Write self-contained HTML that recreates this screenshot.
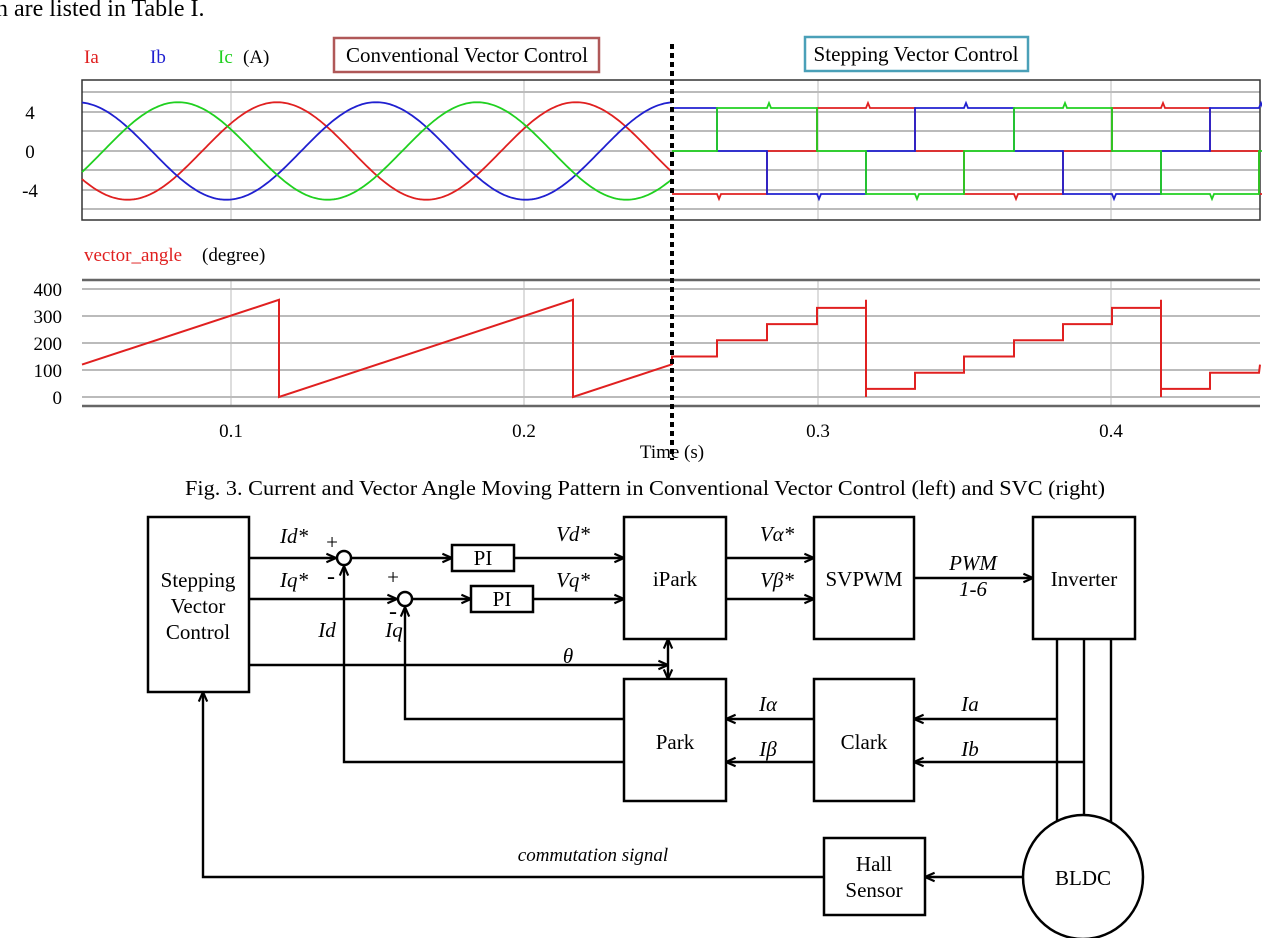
<!DOCTYPE html>
<html><head><meta charset="utf-8"><style>
html,body{margin:0;padding:0;background:#fff;}
svg{display:block;font-family:"Liberation Serif",serif;}
</style></head><body>
<svg id="s" width="1262" height="938" viewBox="0 0 1262 938" xmlns="http://www.w3.org/2000/svg">
<defs>
<marker id="a" viewBox="0 0 10 10" refX="9" refY="5" markerWidth="12" markerHeight="12" orient="auto-start-reverse" markerUnits="userSpaceOnUse"><path d="M1,1.5 L9,5 L1,8.5" fill="none" stroke="#000" stroke-width="1.8"/></marker>
</defs>
<text x="-4" y="16" font-size="24">n are listed in Table I.</text>
<!-- top legend -->
<text x="84" y="63" font-size="19" fill="#e02020">Ia</text>
<text x="150" y="63" font-size="19" fill="#2020d0">Ib</text>
<text x="218" y="63" font-size="19" fill="#20d020">Ic</text>
<text x="243" y="63" font-size="19">(A)</text>
<rect x="334" y="38" width="265" height="34" fill="none" stroke="#b05858" stroke-width="2.5"/>
<text x="467" y="62" font-size="21" text-anchor="middle" textLength="242" lengthAdjust="spacingAndGlyphs">Conventional Vector Control</text>
<rect x="805" y="37" width="223" height="34" fill="none" stroke="#4aa0b8" stroke-width="2.5"/>
<text x="916" y="61" font-size="21" text-anchor="middle" textLength="205" lengthAdjust="spacingAndGlyphs">Stepping Vector Control</text>
<!-- top plot -->
<g stroke="#bbb" stroke-width="2">
<line x1="82" y1="92" x2="1260" y2="92"/><line x1="82" y1="112" x2="1260" y2="112"/><line x1="82" y1="131" x2="1260" y2="131"/><line x1="82" y1="151" x2="1260" y2="151"/><line x1="82" y1="170" x2="1260" y2="170"/><line x1="82" y1="190" x2="1260" y2="190"/><line x1="82" y1="209" x2="1260" y2="209"/>
</g>
<g stroke="#bbb" stroke-width="1"><line x1="231" y1="80" x2="231" y2="220"/><line x1="524" y1="80" x2="524" y2="220"/><line x1="818" y1="80" x2="818" y2="220"/><line x1="1111" y1="80" x2="1111" y2="220"/></g>
<rect x="82" y="80" width="1178" height="140" fill="none" stroke="#333" stroke-width="1.5"/>
<text x="30" y="119" font-size="19" text-anchor="middle">4</text>
<text x="30" y="158" font-size="19" text-anchor="middle">0</text>
<text x="30" y="197" font-size="19" text-anchor="middle">-4</text>
<g id="top" fill="none" stroke-width="1.8"></g>
<!-- bottom -->
<text x="84" y="261" font-size="19" fill="#e02020">vector_angle</text>
<text x="202" y="261" font-size="19">(degree)</text>
<g stroke="#bbb" stroke-width="2"><line x1="82" y1="289" x2="1260" y2="289"/><line x1="82" y1="316" x2="1260" y2="316"/><line x1="82" y1="343" x2="1260" y2="343"/><line x1="82" y1="370" x2="1260" y2="370"/><line x1="82" y1="397" x2="1260" y2="397"/></g>
<g stroke="#bbb" stroke-width="1"><line x1="231" y1="280" x2="231" y2="406"/><line x1="524" y1="280" x2="524" y2="406"/><line x1="818" y1="280" x2="818" y2="406"/><line x1="1111" y1="280" x2="1111" y2="406"/></g>
<line x1="82" y1="280" x2="1260" y2="280" stroke="#666" stroke-width="2.5"/>
<line x1="82" y1="406" x2="1260" y2="406" stroke="#666" stroke-width="2.5"/>
<g font-size="19" text-anchor="end"><text x="62" y="296">400</text><text x="62" y="323">300</text><text x="62" y="350">200</text><text x="62" y="377">100</text><text x="62" y="404">0</text></g>
<path id="ang" fill="none" stroke="#e02020" stroke-width="2"/>
<g font-size="19" text-anchor="middle"><text x="231" y="437">0.1</text><text x="524" y="437">0.2</text><text x="818" y="437">0.3</text><text x="1111" y="437">0.4</text><text x="672" y="458">Time (s)</text></g>
<line x1="672" y1="44" x2="672" y2="460" stroke="#000" stroke-width="4" stroke-dasharray="5,4"/>
<text x="645" y="495" font-size="21" text-anchor="middle" textLength="920" lengthAdjust="spacingAndGlyphs">Fig. 3. Current and Vector Angle Moving Pattern in Conventional Vector Control (left) and SVC (right)</text>
<!-- block diagram -->
<g fill="none" stroke="#000" stroke-width="2.5">
<rect x="148" y="517" width="101" height="175"/>
<rect x="624" y="517" width="102" height="122"/>
<rect x="814" y="517" width="100" height="122"/>
<rect x="1033" y="517" width="102" height="122"/>
<rect x="624" y="679" width="102" height="122"/>
<rect x="814" y="679" width="100" height="122"/>
<rect x="824" y="838" width="101" height="77"/>
<rect x="452" y="545" width="62" height="26"/>
<rect x="471" y="586" width="62" height="26"/>
<circle cx="344" cy="558" r="7"/>
<circle cx="405" cy="599" r="7"/>
<ellipse cx="1083" cy="877" rx="60" ry="62"/>
</g>
<g fill="none" stroke="#000" stroke-width="2.4" marker-end="url(#a)">
<line x1="249" y1="558" x2="336" y2="558"/>
<line x1="351" y1="558" x2="452" y2="558"/>
<line x1="514" y1="558" x2="624" y2="558"/>
<line x1="249" y1="599" x2="397" y2="599"/>
<line x1="412" y1="599" x2="471" y2="599"/>
<line x1="533" y1="599" x2="624" y2="599"/>
<line x1="249" y1="665" x2="668" y2="665"/>
<polyline points="624,719 405,719 405,607"/>
<polyline points="624,762 344,762 344,566"/>
<line x1="814" y1="719" x2="726" y2="719"/>
<line x1="814" y1="762" x2="726" y2="762"/>
<line x1="1057" y1="719" x2="914" y2="719"/>
<line x1="1084" y1="762" x2="914" y2="762"/>
<line x1="726" y1="558" x2="814" y2="558"/>
<line x1="726" y1="599" x2="814" y2="599"/>
<line x1="914" y1="578" x2="1033" y2="578"/>
<line x1="1023" y1="877" x2="925" y2="877"/>
<polyline points="824,877 203,877 203,692"/>
<line x1="668" y1="652" x2="668" y2="639" />
<line x1="668" y1="652" x2="668" y2="679"/>
</g>
<g stroke="#000" stroke-width="2.4"><line x1="1057" y1="639" x2="1057" y2="822"/><line x1="1084" y1="639" x2="1084" y2="815"/><line x1="1111" y1="639" x2="1111" y2="822"/></g>
<g font-size="21" text-anchor="middle">
<text x="198" y="587">Stepping</text><text x="198" y="613">Vector</text><text x="198" y="639">Control</text>
<text x="675" y="586">iPark</text><text x="864" y="586">SVPWM</text><text x="1084" y="586">Inverter</text>
<text x="675" y="749">Park</text><text x="864" y="749">Clark</text>
<text x="874" y="871">Hall</text><text x="874" y="897">Sensor</text>
<text x="1083" y="885">BLDC</text>
<text x="483" y="565">PI</text><text x="502" y="606">PI</text>
<text x="332" y="549" font-size="21">+</text><text x="331" y="584" font-size="24">-</text>
<text x="393" y="584" font-size="21">+</text><text x="393" y="619" font-size="24">-</text>
</g>
<g font-size="21" font-style="italic" text-anchor="middle">
<text x="294" y="543">Id*</text><text x="294" y="587">Iq*</text>
<text x="327" y="637">Id</text><text x="394" y="637">Iq</text>
<text x="573" y="541">Vd*</text><text x="573" y="587">Vq*</text>
<text x="568" y="663">θ</text>
<text x="777" y="541">Vα*</text><text x="777" y="587">Vβ*</text>
<text x="973" y="570">PWM</text><text x="973" y="596">1-6</text>
<text x="768" y="711">Iα</text><text x="768" y="756">Iβ</text>
<text x="970" y="711">Ia</text><text x="970" y="756">Ib</text>
<text x="593" y="861" font-size="19">commutation signal</text>
</g>
</svg>
<script>
(function(){
var NS="http://www.w3.org/2000/svg",g=document.getElementById("top");
function add(d,c){var p=document.createElementNS(NS,"path");p.setAttribute("d",d);p.setAttribute("stroke",c);g.appendChild(p);}
var P=299,A=48.75,y0=151;
[[277,"#e02020"],[376,"#2020d0"],[178,"#20d020"]].forEach(function(o){
 var d="";for(var x=82;x<=672;x+=2){var y=y0-A*Math.cos(2*Math.PI*(x-o[0])/P);d+=(x==82?"M":"L")+x+","+y.toFixed(1);}add(d,o[1]);});
var T=[672,717,767,817,866,915,964,1014,1063,1112,1161,1210,1259,1262];
var H=108,Z=151,L=194;
var S=[[L,H,Z],[L,Z,H],[Z,L,H],[H,L,Z],[H,Z,L],[Z,H,L]];
var cols=["#e02020","#2020d0","#20d020"];
for(var k=0;k<3;k++){var d="";
 for(var i=0;i<T.length-1;i++){var lv=S[i%6][k];
  d+=(i==0?"M":"L")+T[i]+","+lv+" ";
  if(i>0){var prev=S[(i-1)%6][k];if(prev==lv){var sp=lv==H?-5:(lv==L?5:0);d+="L"+(T[i]+2)+","+(lv+sp)+" L"+(T[i]+4)+","+lv+" ";}}
  d+="L"+T[i+1]+","+lv+" ";}
 add(d,cols[k]);}
var yv=function(v){return (397-v*0.27).toFixed(1);};
var d="M82,"+yv(120)+" L279,"+yv(360)+" L279,"+yv(0)+" L573,"+yv(360)+" L573,"+yv(0)+" L672,"+yv(121);
var vals=[150,210,270,330,30,90,150,210,270,330,30,90];
for(var i=0;i<12;i++){var x0=T[i],x1=T[i+1];d+=" L"+x0+","+yv(vals[i])+" L"+x1+","+yv(vals[i]);
 if(vals[i]==330){d+=" L"+x1+","+yv(360)+" L"+x1+","+yv(0)+" L"+x1+","+yv(30);}}
d+=" L1260,"+yv(120);
document.getElementById("ang").setAttribute("d",d);
})();
</script>
</body></html>
